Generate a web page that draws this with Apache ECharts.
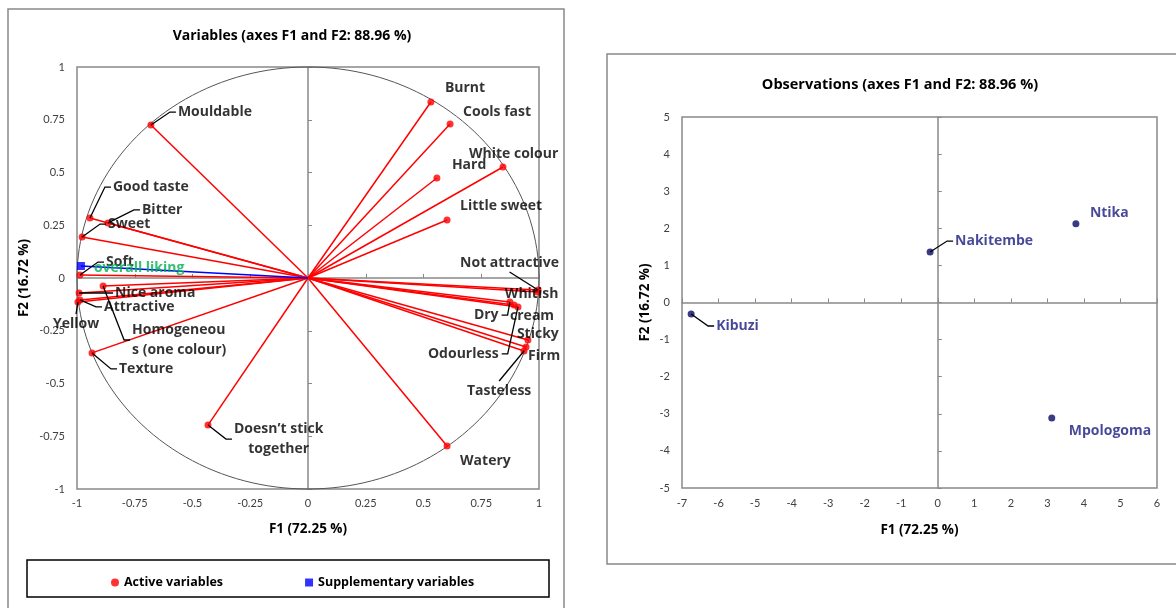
<!DOCTYPE html>
<html>
<head>
<meta charset="utf-8">
<style>
  html, body { margin: 0; padding: 0; background: #fff; }
  #chart-container { width: 1176px; height: 608px; }
</style>
<script src="https://cdn.jsdelivr.net/npm/echarts@6/dist/echarts.min.js"></script>
</head>
<body>
<div id="chart-container"></div>
<script>
'use strict';

// Variables (correlation circle), coordinates on F1 / F2
const activeNames = ['Burnt', 'Cools fast', 'White colour', 'Hard', 'Little sweet', 'Mouldable',
    'Good taste', 'Bitter', 'Sweet', 'Soft', 'Nice aroma', 'Attractive', 'Yellow',
    'Homogeneous (one colour)', 'Texture', 'Doesn’t stick together', 'Watery',
    'Not attractive', 'Whitish', 'Dry', 'cream', 'Odourless', 'Sticky', 'Firm', 'Tasteless'];
const activeF1 = [0.532, 0.615, 0.844, 0.558, 0.602, -0.680,
    -0.944, -0.866, -0.978, -0.987, -0.991, -0.987, -0.996,
    -0.887, -0.935, -0.433, 0.602,
    0.996, 0.995, 0.874, 0.892, 0.909, 0.952, 0.944, 0.935];
const activeF2 = [0.834, 0.730, 0.526, 0.474, 0.275, 0.725,
    0.284, 0.261, 0.194, 0.014, -0.071, -0.104, -0.114,
    -0.038, -0.355, -0.697, -0.796,
    -0.057, -0.066, -0.114, -0.128, -0.137, -0.294, -0.327, -0.346];

const supplementaryNames = ['overall liking'];
const supplementaryF1 = [-0.983];
const supplementaryF2 = [0.057];

// Observations
const observationNames = ['Ntika', 'Nakitembe', 'Kibuzi', 'Mpologoma'];
const observationF1 = [3.78, -0.21, -6.75, 3.12];
const observationF2 = [2.12, 1.36, -0.31, -3.11];

const circleTicks = [-1, -0.75, -0.5, -0.25, 0, 0.25, 0.5, 0.75, 1];
const obsXTicks = [-7, 6];
const obsYTicks = [-5, 5];

// label text shown on the chart (wrapped like the original)
const displayText = {
    'Homogeneous (one colour)': 'Homogeneou\ns (one colour)',
    'Doesn’t stick together': 'Doesn’t stick\ntogether'
};

// label offsets (px from the point to the label's left/middle) and leader style
const variableSpots = {
    'Burnt': { dx: 14, dy: -14 },
    'Cools fast': { dx: 13, dy: -12 },
    'White colour': { dx: -34, dy: -13 },
    'Hard': { dx: 15, dy: -13 },
    'Little sweet': { dx: 13, dy: -14 },
    'Mouldable': { dx: 27, dy: -13, lead: 'L' },
    'Good taste': { dx: 23, dy: -31, lead: 'L' },
    'Bitter': { dx: 34, dy: -13, lead: 'L' },
    'Sweet': { dx: 26, dy: -13, lead: 'L' },
    'Soft': { dx: 26, dy: -13, lead: 'L' },
    'Nice aroma': { dx: 36, dy: 0, lead: 'L' },
    'Attractive': { dx: 24, dy: 7, lead: 'L' },
    'Yellow': { dx: -25, dy: 22, lead: 'T' },
    'Homogeneous (one colour)': { dx: 29, dy: 54, lead: 'L' },
    'Texture': { dx: 27, dy: 16, lead: 'L' },
    'Doesn’t stick together': { dx: 26, dy: 14, lead: 'L', center: true },
    'Watery': { dx: 13, dy: 15 },
    'Not attractive': { dx: -78, dy: -27, lead: 'B' },
    'Whitish': { dx: -33, dy: 2 },
    'Dry': { dx: -36, dy: 13, lead: 'R' },
    'cream': { dx: -4, dy: 11 },
    'Odourless': { dx: -90, dy: 47, lead: 'R' },
    'Sticky': { dx: -11, dy: -6 },
    'Firm': { dx: 2, dy: 9 },
    'Tasteless': { dx: -57, dy: 40, lead: 'T' },
    'overall liking': { dx: 13, dy: 2 }
};
const observationSpots = {
    'Ntika': { dx: 14, dy: -11 },
    'Nakitembe': { dx: 25, dy: -11, lead: 'L' },
    'Kibuzi': { dx: 25, dy: 12, lead: 'L' },
    'Mpologoma': { dx: 17, dy: 13 }
};

const FONT = 'Lato';
const BOLD = 'Open Sans';
const FRAME = '#898989';
const LABEL_SIZE = 14;

const measureCtx = document.createElement('canvas').getContext('2d');
function textWidth(text, size) {
    measureCtx.font = 'bold ' + size + 'px "' + BOLD + '"';
    return Math.max.apply(null, text.split('\n').map(t => measureCtx.measureText(t).width));
}
function shown(name) {
    return displayText[name] || name;
}

function placeLabels(names, spots) {
    return function (params) {
        const s = spots[names[params.dataIndex]];
        const px = params.rect.x + params.rect.width / 2;
        const py = params.rect.y + params.rect.height / 2;
        const w = params.labelRect.width;
        return {
            x: s.center ? px + s.dx + w / 2 : px + s.dx,
            y: py + s.dy,
            align: s.center ? 'center' : 'left',
            verticalAlign: 'middle'
        };
    };
}

// leader line from a point to its label (drawn in pixels next to the point)
function leaderSeries(names, xs, ys, spots, size, axisIndex) {
    return {
        name: 'leaders', type: 'custom', xAxisIndex: axisIndex, yAxisIndex: axisIndex, silent: true, z: 4,
        clip: false,
        data: names.map((n, i) => [xs[i], ys[i], i]),
        renderItem: function (params, api) {
            const n = names[api.value(2)];
            const s = spots[n];
            if (!s.lead) {
                return { type: 'group', children: [] };
            }
            const p = api.coord([api.value(0), api.value(1)]);
            const w = textWidth(shown(n), size);
            const left = p[0] + s.dx;
            const ly = p[1] + s.dy;
            let pts;
            if (s.lead === 'L') {
                pts = [p, [left - 8, ly], [left - 2, ly]];
            } else if (s.lead === 'R') {
                pts = [p, [left + w + 9, ly], [left + w + 3, ly]];
            } else if (s.lead === 'T') {
                pts = [p, [left + w / 2, ly - 10]];
            } else {
                pts = [p, [left + w / 2, ly + 9]];
            }
            return { type: 'polyline', shape: { points: pts }, style: { stroke: '#000', lineWidth: 1.3, fill: null } };
        }
    };
}

function xAxes(gridIndex, min, max, interval, margin, gap) {
    return [{
        gridIndex, type: 'value', min, max, interval, position: 'bottom',
        axisLine: { show: false, onZero: false }, axisTick: { show: false }, splitLine: { show: false },
        axisLabel: { margin, color: '#404040', fontFamily: FONT, fontSize: 11 },
        name: 'F1 (72.25 %)', nameLocation: 'middle', nameGap: gap,
        nameTextStyle: { fontFamily: BOLD, fontWeight: 'bold', fontSize: 13.5, color: '#000' }
    }, {
        gridIndex, type: 'value', min, max, interval,
        axisLine: { show: true, onZero: true, lineStyle: { color: FRAME, width: 1.5 } },
        axisTick: { show: true, length: 4, lineStyle: { color: FRAME, width: 1 } },
        axisLabel: { show: false }, splitLine: { show: false }
    }];
}

function yAxes(gridIndex, min, max, interval, margin, gap) {
    return [{
        gridIndex, type: 'value', min, max, interval, position: 'left',
        axisLine: { show: false, onZero: false }, axisTick: { show: false }, splitLine: { show: false },
        axisLabel: { margin, color: '#404040', fontFamily: FONT, fontSize: 11 },
        name: 'F2 (16.72 %)', nameLocation: 'middle', nameGap: gap,
        nameTextStyle: { fontFamily: BOLD, fontWeight: 'bold', fontSize: 13.5, color: '#000' }
    }, {
        gridIndex, type: 'value', min, max, interval,
        axisLine: { show: true, onZero: true, lineStyle: { color: FRAME, width: 1.5 } },
        axisTick: { show: true, length: 4, lineStyle: { color: FRAME, width: 1 } },
        axisLabel: { show: false }, splitLine: { show: false }
    }];
}

const myChart = echarts.init(document.getElementById('chart-container'), null, { renderer: 'canvas' });

const labelFont = { fontFamily: BOLD, fontWeight: 'bold', fontSize: LABEL_SIZE, color: '#000', lineHeight: 20 };

const option = {
    animation: false,
    title: [{
        text: 'Variables (axes F1 and F2: 88.96 %)',
        left: 287, top: 24, textAlign: 'center',
        textStyle: { fontFamily: BOLD, fontWeight: 'bold', fontSize: 14, color: '#000' }
    }, {
        text: 'Observations (axes F1 and F2: 88.96 %)',
        left: 895, top: 72, textAlign: 'center',
        textStyle: { fontFamily: BOLD, fontWeight: 'bold', fontSize: 14.5, color: '#000' }
    }],
    legend: {
        data: [
            { name: 'Active variables', icon: 'circle' },
            { name: 'Supplementary variables', icon: 'rect' }
        ],
        left: 106, top: 571,
        itemWidth: 8, itemHeight: 8, itemGap: 82,
        selectedMode: false,
        textStyle: { fontFamily: BOLD, fontWeight: 'bold', fontSize: 12.5, color: '#000' }
    },
    graphic: [
        { type: 'rect', shape: { x: 8, y: 9, width: 556, height: 604 }, style: { fill: null, stroke: FRAME, lineWidth: 1.5 }, silent: true },
        { type: 'rect', shape: { x: 607, y: 54, width: 580, height: 510 }, style: { fill: null, stroke: FRAME, lineWidth: 1.5 }, silent: true },
        { type: 'rect', shape: { x: 27, y: 560, width: 522, height: 37 }, style: { fill: null, stroke: '#000', lineWidth: 1.5 }, silent: true }
    ],
    grid: [
        { left: 77, top: 67, width: 462, height: 422, show: true, borderColor: FRAME, borderWidth: 1.5 },
        { left: 682, top: 117, width: 475, height: 371, show: true, borderColor: FRAME, borderWidth: 1.5 }
    ],
    xAxis: xAxes(0, circleTicks[0], circleTicks[circleTicks.length - 1], 0.25, 9, 33)
        .concat(xAxes(1, obsXTicks[0], obsXTicks[1], 1, 10, 35)),
    yAxis: yAxes(0, circleTicks[0], circleTicks[circleTicks.length - 1], 0.25, 12, 46)
        .concat(yAxes(1, obsYTicks[0], obsYTicks[1], 1, 12, 30)),
    series: [
        {
            // correlation circle
            name: 'circle', type: 'custom', xAxisIndex: 0, yAxisIndex: 0, silent: true, z: 1,
            data: [[0, 0]],
            renderItem: function (params, api) {
                const pts = [];
                for (let a = 0; a <= 360; a += 2) {
                    const r = a * Math.PI / 180;
                    pts.push(api.coord([Math.cos(r), Math.sin(r)]));
                }
                return { type: 'polyline', shape: { points: pts }, style: { stroke: '#555', lineWidth: 1, fill: null } };
            }
        },
        {
            name: 'active vectors', type: 'custom', xAxisIndex: 0, yAxisIndex: 0, silent: true, z: 2,
            data: activeF1.map((v, i) => [v, activeF2[i]]),
            renderItem: function (params, api) {
                const o = api.coord([0, 0]);
                const p = api.coord([api.value(0), api.value(1)]);
                return { type: 'line', shape: { x1: o[0], y1: o[1], x2: p[0], y2: p[1] }, style: { stroke: '#ff0000', lineWidth: 1.5 } };
            }
        },
        {
            name: 'supplementary vectors', type: 'custom', xAxisIndex: 0, yAxisIndex: 0, silent: true, z: 2,
            data: supplementaryF1.map((v, i) => [v, supplementaryF2[i]]),
            renderItem: function (params, api) {
                const o = api.coord([0, 0]);
                const p = api.coord([api.value(0), api.value(1)]);
                return { type: 'line', shape: { x1: o[0], y1: o[1], x2: p[0], y2: p[1] }, style: { stroke: '#0000ff', lineWidth: 1.5 } };
            }
        },
        leaderSeries(activeNames, activeF1, activeF2, variableSpots, LABEL_SIZE, 0),
        leaderSeries(observationNames, observationF1, observationF2, observationSpots, LABEL_SIZE, 2),
        {
            name: 'Active variables', type: 'scatter', xAxisIndex: 0, yAxisIndex: 0, z: 3,
            symbol: 'circle', symbolSize: 7,
            itemStyle: { color: '#ff0000' },
            data: activeNames.map((n, i) => ({ name: n, value: [activeF1[i], activeF2[i]] })),
            label: {
                show: true,
                formatter: (p) => shown(p.name),
                ...labelFont
            },
            labelLayout: placeLabels(activeNames, variableSpots)
        },
        {
            name: 'Supplementary variables', type: 'scatter', xAxisIndex: 0, yAxisIndex: 0, z: 3,
            symbol: 'rect', symbolSize: 8,
            itemStyle: { color: '#0000ff' },
            data: supplementaryNames.map((n, i) => ({ name: n, value: [supplementaryF1[i], supplementaryF2[i]] })),
            label: {
                show: true,
                formatter: '{b}',
                ...labelFont,
                color: '#00b050'
            },
            labelLayout: placeLabels(supplementaryNames, variableSpots)
        },
        {
            name: 'Observations', type: 'scatter', xAxisIndex: 2, yAxisIndex: 2, z: 3,
            symbol: 'circle', symbolSize: 7,
            itemStyle: { color: '#0a0a66' },
            data: observationNames.map((n, i) => ({ name: n, value: [observationF1[i], observationF2[i]] })),
            label: {
                show: true,
                formatter: '{b}',
                ...labelFont,
                color: '#1a1a80'
            },
            labelLayout: placeLabels(observationNames, observationSpots)
        }
    ]
};

myChart.setOption(option);
window.addEventListener('resize', myChart.resize);
</script>
</body>
</html>
